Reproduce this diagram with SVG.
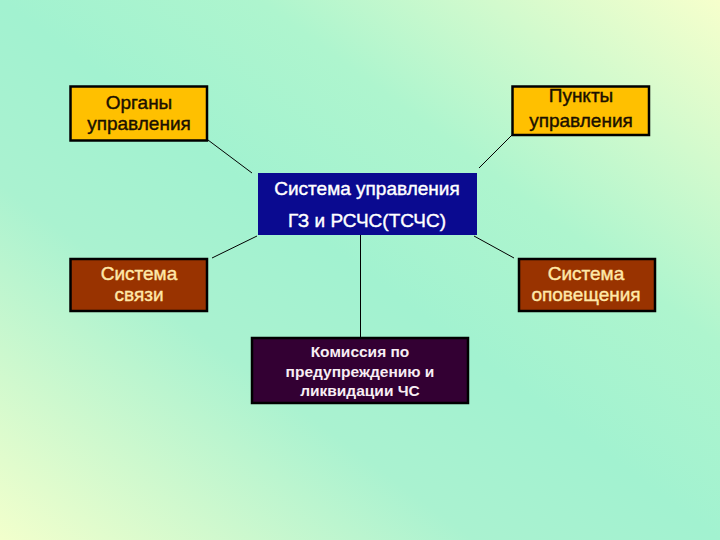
<svg xmlns="http://www.w3.org/2000/svg" width="720" height="540" viewBox="0 0 720 540">
<defs>
<linearGradient id="bg" x1="0" y1="1" x2="1" y2="0">
<stop offset="0" stop-color="#F2FFCC"/>
<stop offset="0.33" stop-color="#AAF2D0"/>
<stop offset="0.5" stop-color="#A2F2D0"/>
<stop offset="0.68" stop-color="#AEF5CE"/>
<stop offset="1" stop-color="#F6FFCC"/>
</linearGradient>
<style>
.t{font-family:"Liberation Sans",Arial,sans-serif;text-anchor:middle}
.or{fill:#FFC000;stroke:#000;stroke-width:2.5}
.br{fill:#993300;stroke:#000;stroke-width:2.5}
.bl{fill:#0A0A90}
.pu{fill:#330033;stroke:#000;stroke-width:2.5}
.dk{fill:#1A1000;font-size:19px;stroke:#1A1000;stroke-width:0.4}
.wh{fill:#FFFFFF;font-size:19px;stroke:#FFFFFF;stroke-width:0.4}
.ye{fill:#FFE8A8;font-size:19px;stroke:#FFE8A8;stroke-width:0.4}
.pk{fill:#F8EEF4;font-size:15.5px;font-weight:bold}
.c{stroke:#000;stroke-width:1;fill:none}
</style>
</defs>
<rect x="0" y="0" width="720" height="540" fill="url(#bg)"/>
<g id="connectors">
<line class="c" x1="208" y1="140" x2="252" y2="173"/>
<line class="c" x1="512" y1="135" x2="479" y2="168"/>
<line class="c" x1="257" y1="236" x2="212" y2="258"/>
<line class="c" x1="474" y1="236" x2="514" y2="258"/>
<line class="c" x1="360.5" y1="235" x2="360.5" y2="338"/>
</g>
<g id="organy">
<rect class="or" x="70.5" y="86.5" width="136.5" height="54"/>
<text class="t dk" x="139" y="109">Органы</text>
<text class="t dk" x="139" y="129.5">управления</text>
</g>
<g id="punkty">
<rect class="or" x="512.5" y="86.5" width="136.5" height="48.5"/>
<text class="t dk" x="581" y="102">Пункты</text>
<text class="t dk" x="581" y="126.5">управления</text>
</g>
<g id="center">
<rect class="bl" x="258" y="173" width="219" height="62"/>
<text class="t wh" x="367" y="195">Система управления</text>
<text class="t wh" x="367" y="226.5">ГЗ и РСЧС(ТСЧС)</text>
</g>
<g id="svyazi">
<rect class="br" x="70.5" y="259" width="136.5" height="52"/>
<text class="t ye" x="139" y="279.5">Система</text>
<text class="t ye" x="139" y="300.5">связи</text>
</g>
<g id="opoveshcheniya">
<rect class="br" x="519" y="259" width="136" height="52"/>
<text class="t ye" x="586" y="279.5">Система</text>
<text class="t ye" x="586" y="300.5">оповещения</text>
</g>
<g id="komissiya">
<rect class="pu" x="252" y="338" width="216" height="65"/>
<text class="t pk" x="360" y="357">Комиссия по</text>
<text class="t pk" x="360" y="376.5">предупреждению и</text>
<text class="t pk" x="360" y="396">ликвидации ЧС</text>
</g>
</svg>
